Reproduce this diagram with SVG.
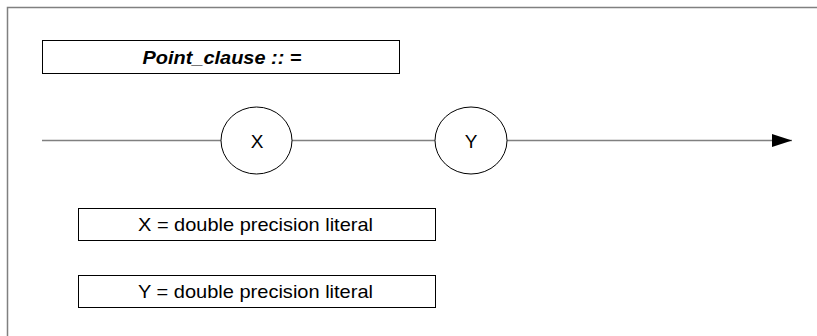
<svg xmlns="http://www.w3.org/2000/svg" width="817" height="336" viewBox="0 0 817 336">
<defs>
<style>
.box{fill:#fff;stroke:#000;stroke-width:1}
.node{fill:#fff;stroke:#000;stroke-width:1}
.lbl{font-family:"Liberation Sans",Arial,sans-serif;font-size:19px;fill:#000;text-anchor:middle;dominant-baseline:central}
.conn{stroke:#808080;stroke-width:1.3;fill:none}
</style>
<marker id="arr" markerWidth="20" markerHeight="14" refX="20" refY="7" orient="auto" markerUnits="userSpaceOnUse">
<path d="M0,0.5 L20,7 L0,13.5 Z" fill="#000"/>
</marker>
</defs>
<rect width="817" height="336" fill="#fff"/>
<path d="M7.5,340 L7.5,7.5 L820,7.5" fill="none" stroke="#808080" stroke-width="1.5"/>
<g id="title">
<rect class="box" x="42.5" y="40.5" width="357" height="33"/>
<text class="lbl" x="222" y="57" font-weight="bold" font-style="italic" textLength="159" lengthAdjust="spacingAndGlyphs">Point_clause :: =</text>
</g>
<g id="connectors">
<line class="conn" x1="42" y1="140.5" x2="221" y2="140.5"/>
<line class="conn" x1="292" y1="140.5" x2="435" y2="140.5"/>
<line class="conn" x1="507" y1="140.5" x2="792" y2="140.5" marker-end="url(#arr)"/>
</g>
<g id="nodeX">
<ellipse class="node" cx="256.5" cy="140.5" rx="35.5" ry="33.5"/>
<text class="lbl" x="257" y="141">X</text>
</g>
<g id="nodeY">
<ellipse class="node" cx="471" cy="140.5" rx="36" ry="33.5"/>
<text class="lbl" x="471" y="141">Y</text>
</g>
<g id="defX">
<rect class="box" x="78.5" y="208.5" width="357" height="32"/>
<text class="lbl" x="255.5" y="224" textLength="235" lengthAdjust="spacingAndGlyphs">X = double precision literal</text>
</g>
<g id="defY">
<rect class="box" x="78.5" y="275.5" width="357" height="32"/>
<text class="lbl" x="255.5" y="291" textLength="235" lengthAdjust="spacingAndGlyphs">Y = double precision literal</text>
</g>
</svg>
